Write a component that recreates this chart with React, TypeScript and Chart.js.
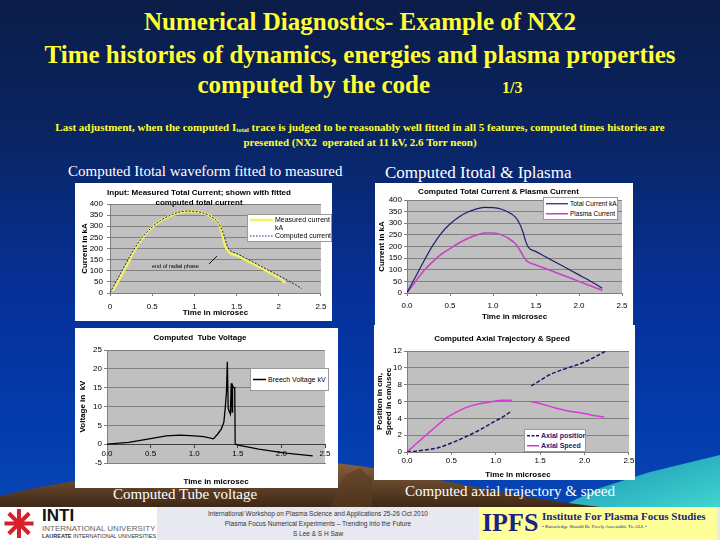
import React, { useEffect, useRef } from "react";
import { Chart, registerables } from "chart.js";

Chart.register(...registerables);

const SANS = "'Liberation Sans', Arial, Helvetica, sans-serif";
const SERIF = "'Liberation Serif', 'Times New Roman', serif";

// ---------------- data ----------------
const timeTicks = [0, 0.5, 1, 1.5, 2, 2.5];
const currentTicks = [0, 50, 100, 150, 200, 250, 300, 350, 400];
const voltageTicks = [-5, 0, 5, 10, 15, 20, 25];
const axialTicks = [0, 2, 4, 6, 8, 10, 12];

const totalTime = [0, 0.1, 0.2, 0.3, 0.4, 0.5, 0.6, 0.7, 0.8, 0.9, 1.0, 1.1, 1.2, 1.26, 1.31, 1.35, 1.38, 1.41, 1.5, 1.6, 1.7, 1.8, 1.9, 2.0, 2.1, 2.2, 2.27];
const totalCurrent = [2, 70, 140, 205, 258, 297, 326, 347, 361, 368, 367, 360, 343, 326, 298, 260, 222, 197, 178, 158, 138, 118, 98, 78, 58, 37, 20];
const plasmaCurrent = [0, 50, 98, 135, 167, 191, 214, 233, 248, 258, 258, 250, 230, 212, 186, 160, 143, 134, 120, 106, 92, 78, 64, 50, 36, 22, 12];

const measuredTime = [0.03, 0.1, 0.2, 0.3, 0.4, 0.5, 0.6, 0.7, 0.8, 0.9, 1.0, 1.1, 1.2, 1.28, 1.32, 1.35, 1.38, 1.42, 1.46, 1.5, 1.6, 1.7, 1.8, 1.9, 2.0, 2.08];
const measuredCurrent = [10, 55, 125, 198, 255, 296, 324, 345, 359, 366, 366, 360, 343, 318, 284, 232, 200, 181, 173, 169, 150, 131, 111, 91, 69, 45];

const voltageTime = [0, 0.25, 0.5, 0.68, 0.84, 1.0, 1.11, 1.22, 1.27, 1.31, 1.34, 1.355, 1.37, 1.38, 1.39, 1.4, 1.415, 1.425, 1.435, 1.44, 1.45, 1.465, 1.47, 1.52, 1.74, 2.05, 2.36];
const breechVoltage = [0, 0.5, 1.5, 2.2, 2.4, 2.2, 2.0, 1.4, 2.7, 4.0, 5.8, 9.4, 13.8, 21.9, 9.5, 8.8, 8.0, 16.2, 8.5, 15.6, 15.0, 15.0, 0, -0.3, -1.3, -2.4, -3.1];

const positionTime = [0, 0.1, 0.2, 0.34, 0.5, 0.71, 0.85, 0.98, 1.1, 1.18, 1.29, 1.4, 1.5, 1.6, 1.8, 1.98, 2.1, 2.24];
const axialPosition = [0, 0.1, 0.25, 0.47, 1.07, 2.05, 2.8, 3.6, 4.3, 4.9, null, 7.85, 8.5, 9.15, 9.95, 10.6, 11.2, 12.0];

const speedTime = [0, 0.1, 0.22, 0.34, 0.45, 0.56, 0.67, 0.8, 0.97, 1.06, 1.18, 1.29, 1.4, 1.55, 1.68, 1.83, 1.98, 2.1, 2.22];
const axialSpeed = [0, 0.95, 2.05, 3.15, 4.1, 4.75, 5.3, 5.7, 6.0, 6.15, 6.15, null, 6.0, 5.6, 5.2, 4.85, 4.6, 4.35, 4.15];

const pts = (xs: number[], ys: (number | null)[]) => xs.map((x, i) => ({ x, y: ys[i] }));

// ---------------- chart helpers ----------------
const plotBg = {
  id: "plotBg",
  beforeDraw(chart: any) {
    const { ctx, chartArea: a } = chart;
    if (!a) return;
    ctx.save();
    ctx.fillStyle = "#c0c0c0";
    ctx.fillRect(a.left, a.top, a.right - a.left, a.bottom - a.top);
    ctx.restore();
  },
};

const tickFont = { family: SANS, size: 8 };
const boldFont = { family: SANS, size: 8, weight: "bold", lineHeight: 1.15 };

function makeOptions(o: any) {
  const scales: any = {
    x: {
      type: "linear",
      min: 0,
      max: 2.5,
      afterBuildTicks: (s: any) => {
        s.ticks = timeTicks.map((v) => ({ value: v }));
      },
      afterFit: (s: any) => {
        s.height = o.xHeight;
      },
      ticks: {
        display: o.xTicksShow !== false,
        font: tickFont,
        color: "#000",
        padding: o.xTickPad,
        maxRotation: 0,
        autoSkip: false,
        callback: (v: any) => o.xFmt(Number(v)),
      },
      grid: { drawOnChartArea: false, drawTicks: o.xDrawTicks, tickLength: 3, color: "#808080" },
      border: { display: true, color: "#808080" },
      title: {
        display: true,
        text: "Time in microsec",
        color: "#000",
        font: boldFont,
        padding: { top: 0, bottom: o.xTitlePadB },
      },
    },
    y: {
      type: "linear",
      min: o.yMin,
      max: o.yMax,
      afterBuildTicks: (s: any) => {
        s.ticks = o.yTicks.map((v: number) => ({ value: v }));
      },
      afterFit: (s: any) => {
        s.width = o.yWidth;
      },
      ticks: { font: tickFont, color: "#000", padding: o.yTickPad, autoSkip: false },
      grid: { color: "#808080", drawTicks: true, tickLength: 3 },
      border: { display: true, color: "#808080" },
      title: {
        display: true,
        text: o.yTitle,
        color: "#000",
        font: boldFont,
        padding: { top: o.yTitlePadT, bottom: 0 },
      },
    },
  };
  if (o.zeroAxis) {
    scales.x2 = {
      type: "linear",
      axis: "x",
      position: { y: 0 },
      min: 0,
      max: 2.5,
      afterBuildTicks: (s: any) => {
        s.ticks = timeTicks.map((v) => ({ value: v }));
      },
      ticks: {
        font: tickFont,
        color: "#000",
        padding: 2,
        maxRotation: 0,
        autoSkip: false,
        callback: (v: any) => o.xFmt(Number(v)),
      },
      grid: { drawOnChartArea: false, drawTicks: true, tickLength: 3, color: "#404040" },
      border: { display: true, color: "#404040" },
      title: { display: false },
    };
  }
  return {
    responsive: false,
    animation: false,
    events: [],
    layout: { padding: { left: 0, right: o.padRight, top: 0, bottom: 0 } },
    plugins: {
      legend: { display: false },
      tooltip: { enabled: false },
      title: {
        display: true,
        text: o.title,
        color: "#000",
        font: { family: SANS, size: 8, weight: "bold", lineHeight: 1.2 },
        padding: o.titlePad,
      },
    },
    scales,
  };
}

const fmtPlain = (v: number) => String(Math.round(v * 10) / 10);
const fmtFixed = (v: number) => v.toFixed(1);

function chart1Config() {
  return {
    type: "line",
    data: {
      datasets: [
        {
          label: "Computed current",
          data: pts(totalTime, totalCurrent),
          borderColor: "#1c1c5c",
          borderWidth: 1,
          borderDash: [2, 1.5],
          pointRadius: 0,
          cubicInterpolationMode: "monotone",
        },
        {
          label: "Measured current kA",
          data: pts(measuredTime, measuredCurrent),
          borderColor: "#f2f266",
          borderWidth: 2.6,
          pointRadius: 0,
          cubicInterpolationMode: "monotone",
        },
      ],
    },
    options: makeOptions({
      title: ["Input: Measured Total Current; shown with fitted", "computed total current"],
      titlePad: { top: 5, bottom: -3.2 },
      padRight: 9,
      yMin: 0,
      yMax: 400,
      yTicks: currentTicks,
      yTitle: "Current in kA",
      yWidth: 35,
      yTickPad: 4,
      yTitlePadT: 5,
      xHeight: 28,
      xTickPad: 5.5,
      xDrawTicks: true,
      xTitlePadB: 3.4,
      xFmt: fmtPlain,
    }),
    plugins: [plotBg],
  };
}

function chart2Config() {
  return {
    type: "line",
    data: {
      datasets: [
        {
          label: "Total Current kA",
          data: pts(totalTime, totalCurrent),
          borderColor: "#1e1e6e",
          borderWidth: 1.2,
          pointRadius: 0,
          cubicInterpolationMode: "monotone",
        },
        {
          label: "Plasma Current",
          data: pts(totalTime, plasmaCurrent),
          borderColor: "#c840c8",
          borderWidth: 1.6,
          pointRadius: 0,
          cubicInterpolationMode: "monotone",
        },
      ],
    },
    options: makeOptions({
      title: "Computed Total Current & Plasma Current",
      titlePad: { top: 4.2, bottom: 3.2 },
      padRight: 11,
      yMin: 0,
      yMax: 400,
      yTicks: currentTicks,
      yTitle: "Current in kA",
      yWidth: 32,
      yTickPad: 2,
      yTitlePadT: 2.4,
      xHeight: 32,
      xTickPad: 4.5,
      xDrawTicks: true,
      xTitlePadB: 3.4,
      xFmt: fmtFixed,
    }),
    plugins: [plotBg],
  };
}

function chart3Config() {
  return {
    type: "line",
    data: {
      datasets: [
        {
          label: "Breech Voltage kV",
          data: pts(voltageTime, breechVoltage),
          borderColor: "#000000",
          borderWidth: 1.3,
          pointRadius: 0,
          tension: 0,
        },
      ],
    },
    options: makeOptions({
      title: "Computed  Tube Voltage",
      titlePad: { top: 5.2, bottom: 7.2 },
      padRight: 13,
      yMin: -5,
      yMax: 25,
      yTicks: voltageTicks,
      yTitle: "Voltage in  kV",
      yWidth: 32,
      yTickPad: 2,
      yTitlePadT: 3.4,
      xHeight: 25,
      xTickPad: 0,
      xTicksShow: false,
      xDrawTicks: false,
      xTitlePadB: 1.4,
      xFmt: fmtFixed,
      zeroAxis: true,
    }),
    plugins: [plotBg],
  };
}

function chart4Config() {
  return {
    type: "line",
    data: {
      datasets: [
        {
          label: "Axial position",
          data: pts(positionTime, axialPosition),
          borderColor: "#1a1a6a",
          borderWidth: 1.5,
          borderDash: [4, 2],
          pointRadius: 0,
          spanGaps: false,
          cubicInterpolationMode: "monotone",
        },
        {
          label: "Axial Speed",
          data: pts(speedTime, axialSpeed),
          borderColor: "#d838d8",
          borderWidth: 1.5,
          pointRadius: 0,
          spanGaps: false,
          cubicInterpolationMode: "monotone",
        },
      ],
    },
    options: makeOptions({
      title: "Computed Axial Trajectory & Speed",
      titlePad: { top: 9.2, bottom: 7.2 },
      padRight: 5,
      yMin: 0,
      yMax: 12,
      yTicks: axialTicks,
      yTitle: ["Position in cm,", "Speed in cm/usec"],
      yWidth: 33,
      yTickPad: 2,
      yTitlePadT: 1,
      xHeight: 28,
      xTickPad: 0.5,
      xDrawTicks: true,
      xTitlePadB: 0.4,
      xFmt: fmtFixed,
    }),
    plugins: [plotBg],
  };
}

function ChartBox({ x, y, w, h, make }: any) {
  const ref = useRef<HTMLCanvasElement>(null);
  useEffect(() => {
    const c = new Chart(ref.current as HTMLCanvasElement, make());
    return () => c.destroy();
  }, []);
  return (
    <div style={{ position: "absolute", left: x, top: y, width: w, height: h, background: "#fff" }}>
      <canvas ref={ref} width={w} height={h} style={{ display: "block", width: w, height: h }} />
    </div>
  );
}

function LegendBox({ left, top, width, height, rows, fontSize, lh, swatch, bold, color, padTop }: any) {
  return (
    <div
      style={{
        position: "absolute",
        left,
        top,
        width,
        height,
        background: "#fff",
        border: "1px solid #9a9a9a",
        boxSizing: "border-box",
        padding: `${padTop}px 1px 0 2px`,
        fontFamily: SANS,
        fontSize,
        lineHeight: lh + "px",
        color: color || "#000",
        fontWeight: bold ? "bold" : "normal",
        overflow: "hidden",
      }}
    >
      {rows.map((r: any, i: number) => (
        <div key={i} style={{ display: "flex", alignItems: "flex-start", whiteSpace: "nowrap" }}>
          <svg width={swatch} height={lh} style={{ flex: "none", marginRight: 2 }}>
            <line x1={0} y1={lh / 2} x2={swatch} y2={lh / 2} stroke={r.color} strokeWidth={r.width} strokeDasharray={r.dash} />
          </svg>
          <div>
            {r.lines.map((t: string, j: number) => (
              <div key={j}>{t}</div>
            ))}
          </div>
        </div>
      ))}
    </div>
  );
}

const yellowTitle: any = {
  position: "absolute",
  left: 0,
  width: 720,
  textAlign: "center",
  color: "#ffff33",
  fontFamily: SERIF,
  fontWeight: "bold",
  fontSize: 25,
  lineHeight: "30px",
  whiteSpace: "nowrap",
};

const caption: any = {
  position: "absolute",
  color: "#ffffff",
  fontFamily: SERIF,
  fontSize: 15,
  lineHeight: "16px",
  whiteSpace: "nowrap",
};

function Landscape() {
  return (
    <svg width={720} height={120} style={{ position: "absolute", left: 0, top: 400 }}>
      <defs>
        <linearGradient id="brown" x1="0" y1="0" x2="0" y2="1">
          <stop offset="0" stopColor="#8a6440" />
          <stop offset="1" stopColor="#3e2816" />
        </linearGradient>
        <linearGradient id="teal" x1="0" y1="0" x2="1" y2="1">
          <stop offset="0" stopColor="#1a8fb0" />
          <stop offset="1" stopColor="#3fd6d0" />
        </linearGradient>
      </defs>
      <path d="M560,107 L600,88 L650,72 L720,55 L720,107 Z" fill="url(#teal)" />
      <path d="M0,107 L0,96 L35,88 L80,80 L140,72 L200,66 L260,64 L310,60 L360,66 L410,74 L460,84 L510,94 L560,102 L600,107 Z" fill="url(#brown)" />
      <path d="M330,107 L345,75 L360,68 L372,80 L372,107 Z" fill="#5a3c22" opacity="0.6" />
    </svg>
  );
}

function Footer() {
  const mid: any = {
    position: "absolute",
    left: 157,
    width: 322,
    textAlign: "center",
    fontFamily: SANS,
    fontSize: 6.5,
    lineHeight: "10px",
    color: "#333",
    whiteSpace: "nowrap",
  };
  return (
    <div style={{ position: "absolute", left: 0, top: 507, width: 720, height: 33, background: "#e8e8f0" }}>
      <div style={{ position: "absolute", left: 0, top: 0, width: 157, height: 33, background: "#ffffff" }}>
        <svg width={36} height={33} style={{ position: "absolute", left: 1, top: 0 }}>
          {[0, 45, 90, 135].map((a) => (
            <rect key={a} x={16} y={2} width={4} height={29} fill="#d6202a" transform={`rotate(${a} 18 16.5)`} />
          ))}
        </svg>
        <div style={{ position: "absolute", left: 42, top: 0, fontFamily: SANS, fontWeight: "bold", fontSize: 17, lineHeight: "17px", color: "#111" }}>INTI</div>
        <div style={{ position: "absolute", left: 42, top: 17, fontFamily: SANS, fontSize: 8, lineHeight: "9px", color: "#666", whiteSpace: "nowrap" }}>INTERNATIONAL UNIVERSITY</div>
        <div style={{ position: "absolute", left: 42, top: 26, fontFamily: SANS, fontSize: 5.5, lineHeight: "7px", color: "#333", whiteSpace: "nowrap" }}>
          <b>LAUREATE</b> INTERNATIONAL UNIVERSITIES
        </div>
      </div>
      <div style={{ ...mid, top: 2 }}>International Workshop on Plasma Science and Applications 25-26 Oct 2010</div>
      <div style={{ ...mid, top: 12 }}>Plasma Focus Numerical Experiments – Trending into the Future</div>
      <div style={{ ...mid, top: 22 }}>S Lee &amp; S H Saw</div>
      <div style={{ position: "absolute", left: 479, top: 0, width: 238, height: 33, background: "#ffff99" }}>
        <div style={{ position: "absolute", left: 3, top: 2, fontFamily: SERIF, fontWeight: "bold", fontSize: 26, lineHeight: "28px", color: "#1a237e" }}>IPFS</div>
        <div style={{ position: "absolute", left: 63, top: 3, fontFamily: SERIF, fontWeight: "bold", fontSize: 11, lineHeight: "13px", color: "#1a237e", whiteSpace: "nowrap" }}>
          Institute For Plasma Focus Studies
        </div>
        <div style={{ position: "absolute", left: 63, top: 17, fontFamily: SERIF, fontSize: 5, lineHeight: "6px", color: "#1a237e", whiteSpace: "nowrap" }}>
          • Knowledge Should Be Freely Accessible To ALL •
        </div>
      </div>
    </div>
  );
}

export default function App() {
  return (
    <div
      style={{
        position: "fixed",
        left: 0,
        top: 0,
        width: 720,
        height: 540,
        overflow: "hidden",
        background: "linear-gradient(180deg, #0b1c48 0%, #0a2563 25%, #06319a 55%, #033cae 80%, #0a4ab8 100%)",
      }}
    >
      <Landscape />

      <div style={{ ...yellowTitle, top: 7 }}>Numerical Diagnostics- Example of NX2</div>
      <div style={{ ...yellowTitle, top: 40 }}>Time histories of dynamics, energies and plasma properties</div>
      <div style={{ ...yellowTitle, top: 70 }}>
        computed by the code
        <span style={{ fontSize: 16, marginLeft: 72 }}>1/3</span>
      </div>

      <div
        style={{
          position: "absolute",
          left: 0,
          width: 720,
          top: 121,
          textAlign: "center",
          color: "#ffff33",
          fontFamily: SERIF,
          fontWeight: "bold",
          fontSize: 11,
          lineHeight: "13px",
          whiteSpace: "nowrap",
        }}
      >
        <div>
          Last adjustment, when the computed I<span style={{ fontSize: 6.5, verticalAlign: "-1px" }}>total</span> trace is judged to be reasonably well fitted in all 5 features, computed times histories are
        </div>
        <div>presented (NX2&nbsp; operated at 11 kV, 2.6 Torr neon)</div>
      </div>

      <div style={{ ...caption, left: 68, top: 163 }}>Computed Itotal waveform fitted to measured</div>
      <div style={{ ...caption, left: 385, top: 165, fontSize: 17 }}>Computed Itotal &amp; Iplasma</div>
      <div style={{ ...caption, left: 113, top: 486 }}>Computed Tube voltage</div>
      <div style={{ ...caption, left: 405, top: 483 }}>Computed axial trajectory &amp; speed</div>

      <ChartBox x={75} y={183} w={257} h={138} make={chart1Config} />
      <ChartBox x={375} y={183} w={258} h={142} make={chart2Config} />
      <ChartBox x={75} y={328} w={263} h={160} make={chart3Config} />
      <ChartBox x={374} y={325} w={261} h={155} make={chart4Config} />

      {/* chart 1 annotation */}
      <div style={{ position: "absolute", left: 152, top: 263, fontFamily: SANS, fontSize: 5.5, lineHeight: "7px", color: "#000", whiteSpace: "nowrap" }}>
        end of radial phase
      </div>
      <svg width={12} height={12} style={{ position: "absolute", left: 207, top: 254 }}>
        <line x1={2} y1={10} x2={10} y2={2} stroke="#000" strokeWidth={0.9} />
      </svg>

      <LegendBox
        left={247}
        top={214}
        width={85}
        height={28}
        fontSize={7}
        lh={8}
        swatch={23}
        padTop={1}
        rows={[
          { color: "#f2f266", width: 2.5, lines: ["Measured current", "kA"] },
          { color: "#1c1c5c", width: 1, dash: "1.5 1.5", lines: ["Computed current"] },
        ]}
      />
      <LegendBox
        left={543}
        top={197}
        width={75}
        height={23}
        fontSize={6.5}
        lh={9.5}
        swatch={22}
        padTop={1}
        rows={[
          { color: "#1e1e6e", width: 1.2, lines: ["Total Current kA"] },
          { color: "#c840c8", width: 1.5, lines: ["Plasma Current"] },
        ]}
      />
      <LegendBox
        left={250}
        top={368}
        width={79}
        height={23}
        fontSize={7}
        lh={19}
        swatch={13}
        padTop={1}
        rows={[{ color: "#000", width: 1.5, lines: ["Breech Voltage kV"] }]}
      />
      <LegendBox
        left={524}
        top={429}
        width={62}
        height={23}
        fontSize={7}
        lh={9.5}
        swatch={12}
        bold
        color="#1a1a80"
        padTop={1}
        rows={[
          { color: "#1a1a6a", width: 1.5, dash: "3 1.5", lines: ["Axial position"] },
          { color: "#d838d8", width: 1.5, lines: ["Axial Speed"] },
        ]}
      />

      <Footer />
    </div>
  );
}
